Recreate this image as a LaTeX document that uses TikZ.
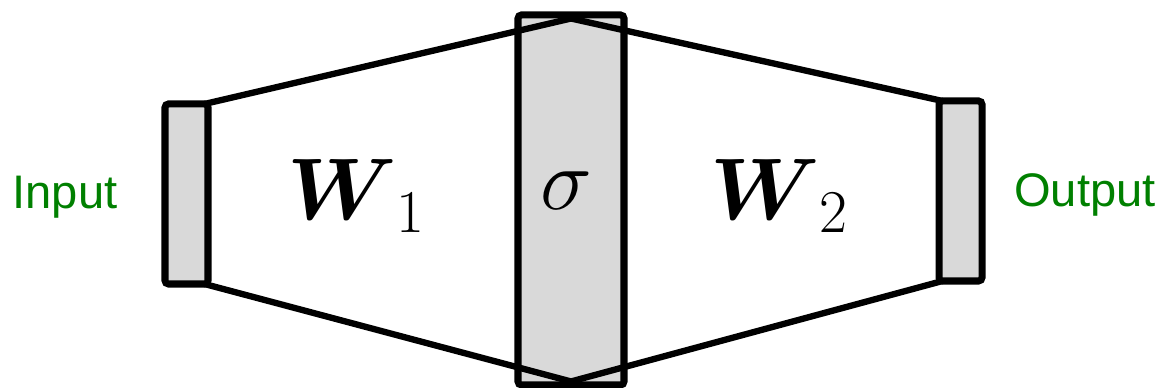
\documentclass[tikz,border=0pt]{standalone}
\usepackage{amsmath}
\usepackage{fontspec}
\setmainfont{Liberation Sans}
\usepackage{tikz}
\usetikzlibrary{positioning}
\definecolor{LayerGray}{RGB}{217,217,217}
\definecolor{LabelGreen}{RGB}{0,128,0}

\begin{document}
\begin{tikzpicture}[
            layer/.style={rectangle, rounded corners=1pt, draw=black,
                          fill=LayerGray, line width=2pt, inner sep=0pt,
                          outer sep=0pt},
            link/.style={line width=1.8pt, line join=miter},
            lbl/.style={font=\fontsize{13.4}{16}\selectfont, text=LabelGreen},
            wgt/.style={font=\fontsize{26}{30}\selectfont}
          ]
          \useasboundingbox (0,0) rectangle (11.61,3.88);
          % layers
          \node[layer, minimum width=0.43cm, minimum height=1.80cm]
                (inp)  at (1.865, 1.94) {};
          \node[layer, minimum width=1.06cm, minimum height=3.70cm]
                (hid)  at (5.71, 1.88) {};
          \node[layer, minimum width=0.43cm, minimum height=1.80cm]
                (outp) at (9.605, 1.97) {};

          % connections
          \draw[link] ([xshift=-1pt]inp.north east) -- ([yshift=-1pt]hid.north)
                -- ([xshift=1pt]outp.north west);
          \draw[link] ([xshift=-1pt]inp.south east) -- ([yshift=1pt]hid.south)
                -- ([xshift=1pt]outp.south west);

          % labels
          \node[lbl] (inlbl)  at (0.65, 1.91)  {Input};
          \node[lbl] (outlbl) at (10.85, 1.93) {Output};
          \node[wgt] (w1)  at (3.57, 1.92) {$\boldsymbol{W}_1$};
          \node[wgt] (act) at (5.66, 1.97) {$\sigma$};
          \node[wgt] (w2)  at (7.80, 1.92) {$\boldsymbol{W}_2$};
        \end{tikzpicture}
\end{document}
